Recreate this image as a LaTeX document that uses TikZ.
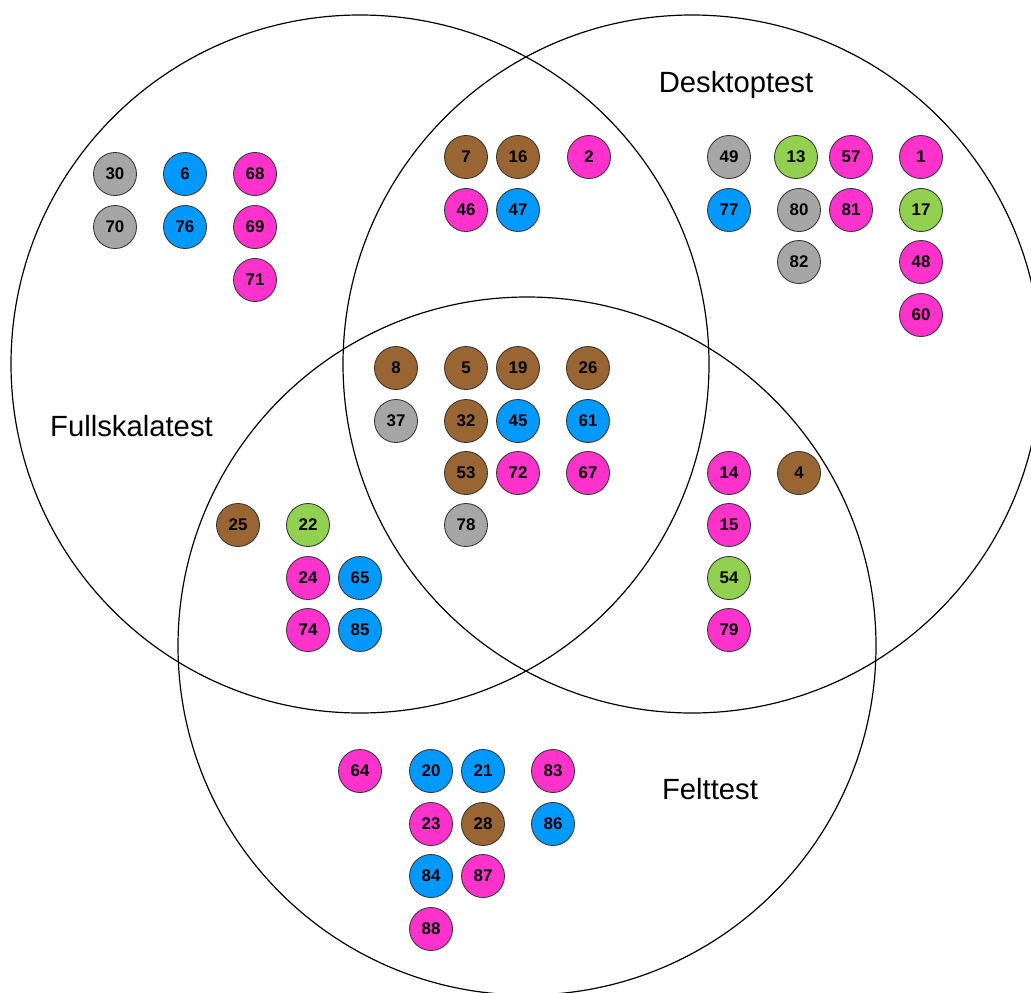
\documentclass[tikz,border=0pt]{standalone}
\usepackage{fontspec}
\setmainfont{Liberation Sans}
\definecolor{dotgray}{HTML}{A6A6A6}
\definecolor{dotblue}{HTML}{0099FF}
\definecolor{dotpink}{HTML}{FF33CC}
\definecolor{dotbrown}{HTML}{996633}
\definecolor{dotgreen}{HTML}{92D050}
\tikzset{
  dot/.style={circle,draw=black!80,line width=.6pt,minimum size=1.075cm,inner sep=0pt,
    font=\bfseries\fontsize{12}{12}\selectfont},
  gr/.style={dot,fill=dotgray},
  bl/.style={dot,fill=dotblue},
  pk/.style={dot,fill=dotpink},
  br/.style={dot,fill=dotbrown},
  gn/.style={dot,fill=dotgreen},
  setlabel/.style={anchor=base,inner sep=0pt,font=\fontsize{20.8}{24}\selectfont}
}
\begin{document}
\begin{tikzpicture}[x=0.025cm,y=-0.025cm]
		\useasboundingbox (0,0) rectangle (1031,992);
		\clip (0,0) rectangle (1031,992);
		\fill [white] (0,0) rectangle (1031,992);
		%the three tests
		\draw [line width=.85pt] (360,364) circle [radius=349];
		\draw [line width=.85pt] (692,364) circle [radius=349];
		\draw [line width=.85pt] (527,646) circle [radius=349];
		\path
		(131.5,436) node[setlabel] (full) {Fullskalatest}
		(736,92) node[setlabel] (desk) {Desktoptest}
		(710,799) node[setlabel] (felt) {Felttest}
		;
		%fullskala only
		\path
		(115,174) node[gr] (n30) {30}
		(185,174) node[bl] (n6) {6}
		(255,174) node[pk] (n68) {68}
		(115,227) node[gr] (n70) {70}
		(185,227) node[bl] (n76) {76}
		(255,227) node[pk] (n69) {69}
		(255,280) node[pk] (n71) {71}
		;
		%fullskala + desktop
		\path
		(466,157) node[br] (n7) {7}
		(518,157) node[br] (n16) {16}
		(589,157) node[pk] (n2) {2}
		(466,210) node[pk] (n46) {46}
		(518,210) node[bl] (n47) {47}
		;
		%desktop only
		\path
		(729,157) node[gr] (n49) {49}
		(796,157) node[gn] (n13) {13}
		(851,157) node[pk] (n57) {57}
		(921,157) node[pk] (n1) {1}
		(729,210) node[bl] (n77) {77}
		(799,210) node[gr] (n80) {80}
		(851,210) node[pk] (n81) {81}
		(921,210) node[gn] (n17) {17}
		(799,262) node[gr] (n82) {82}
		(921,262) node[pk] (n48) {48}
		(921,315) node[pk] (n60) {60}
		;
		%all three
		\path
		(396,368) node[br] (n8) {8}
		(466,368) node[br] (n5) {5}
		(518,368) node[br] (n19) {19}
		(588,368) node[br] (n26) {26}
		(396,421) node[gr] (n37) {37}
		(466,421) node[br] (n32) {32}
		(518,421) node[bl] (n45) {45}
		(588,421) node[bl] (n61) {61}
		(466,473) node[br] (n53) {53}
		(518,473) node[pk] (n72) {72}
		(588,473) node[pk] (n67) {67}
		(466,525) node[gr] (n78) {78}
		;
		%desktop + felt
		\path
		(729,473) node[pk] (n14) {14}
		(799,473) node[br] (n4) {4}
		(729,525) node[pk] (n15) {15}
		(729,578) node[gn] (n54) {54}
		(729,630) node[pk] (n79) {79}
		;
		%fullskala + felt
		\path
		(238,525) node[br] (n25) {25}
		(308,525) node[gn] (n22) {22}
		(308,578) node[pk] (n24) {24}
		(360,578) node[bl] (n65) {65}
		(308,630) node[pk] (n74) {74}
		(360,630) node[bl] (n85) {85}
		;
		%felt only
		\path
		(360,771) node[pk] (n64) {64}
		(431,771) node[bl] (n20) {20}
		(483,771) node[bl] (n21) {21}
		(553,771) node[pk] (n83) {83}
		(431,824) node[pk] (n23) {23}
		(483,824) node[br] (n28) {28}
		(553,824) node[bl] (n86) {86}
		(431,876) node[bl] (n84) {84}
		(483,876) node[pk] (n87) {87}
		(431,929) node[pk] (n88) {88}
		;
\end{tikzpicture}
\end{document}
